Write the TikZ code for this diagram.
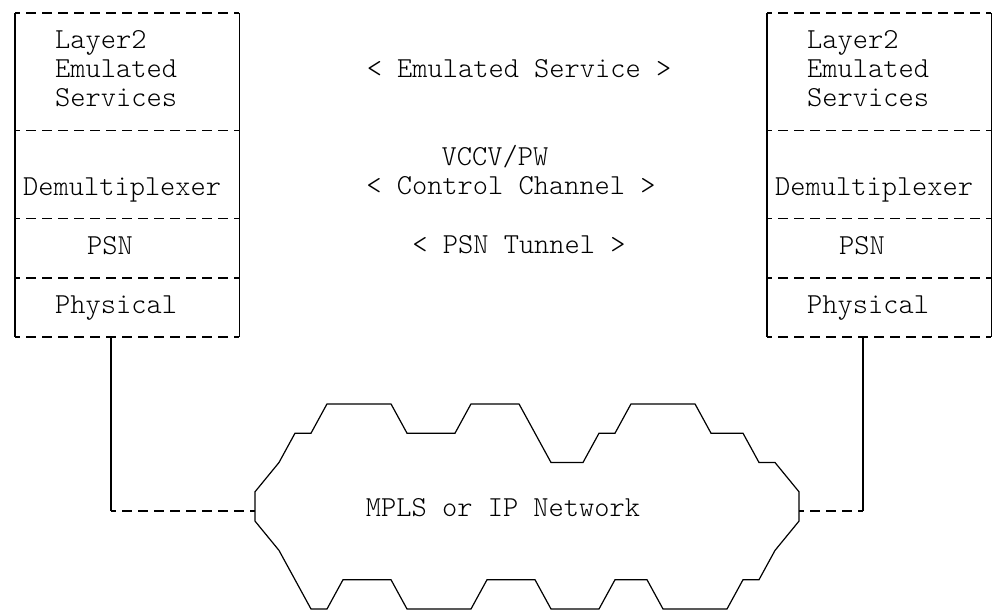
\documentclass[tikz,border=0pt]{standalone}
\usepackage{tikz}
\usetikzlibrary{positioning}

\newcommand{\asciifont}{\ttfamily\fontseries{l}\fontsize{29}{29.3}\selectfont}

\tikzset{
    layer/.style={rectangle, inner ysep=0pt, align=left, font=\asciifont, minimum width=224pt,
        execute at begin node=\strut, execute at end node=\strut},
    note/.style={inner sep=0pt, font=\asciifont,
        execute at begin node=\strut, execute at end node=\strut},
    bar/.style={line width=1.2pt},
    rule/.style={line width=1.2pt, dash pattern=on 10pt off 6pt, dash phase=5pt}
}

\begin{document}
\begin{tikzpicture}[x=1pt, y=-1pt]
        \useasboundingbox (0,0) rectangle (992,612);

        \node[layer, anchor=north west, minimum height=117.2pt, inner xsep=40pt, text width=144pt] (l2) at (15,13) {Layer2\\Emulated\\Services};
        \node[layer, below=0pt of l2, minimum height=87.9pt, inner xsep=8pt, text width=208pt] (ldmx) {\\Demultiplexer};
        \node[layer, below=0pt of ldmx, minimum height=58.6pt, inner xsep=72pt, text width=80pt] (lpsn) {PSN};
        \node[layer, below=0pt of lpsn, minimum height=58.6pt, inner xsep=40pt, text width=144pt] (lphy) {Physical};

        \node[layer, anchor=north west, minimum height=117.2pt, inner xsep=40pt, text width=144pt] (r2) at (767,13) {Layer2\\Emulated\\Services};
        \node[layer, below=0pt of r2, minimum height=87.9pt, inner xsep=8pt, text width=208pt] (rdmx) {\\Demultiplexer};
        \node[layer, below=0pt of rdmx, minimum height=58.6pt, inner xsep=72pt, text width=80pt] (rpsn) {PSN};
        \node[layer, below=0pt of rpsn, minimum height=58.6pt, inner xsep=40pt, text width=144pt] (rphy) {Physical};

        \node[note] (svc) at (519,71.6) {< Emulated Service >};
        \node[note] (vccv) at (495,159.5) {VCCV/PW};
        \node[note] (ctl) at (511,188.8) {< Control Channel >};
        \node[note] (tun) at (519,247.4) {< PSN Tunnel >};
        \node[note] (net) at (503,511) {MPLS or IP Network};

        \coordinate (lport) at ([xshift=96pt]lphy.south west);
        \coordinate (rport) at ([xshift=96pt]rphy.south west);
        \coordinate (cloudw) at (255,511);
        \coordinate (cloude) at (799,511);

        \foreach \s in {l2, ldmx, lpsn, lphy, r2, rdmx, rpsn, rphy}
            \draw[rule] (\s.north west) -- (\s.north east);
        \draw[rule] (lphy.south west) -- (lphy.south east)
            (rphy.south west) -- (rphy.south east);
        \draw[bar] (l2.north west) -- (lphy.south west)
            (l2.north east) -- (lphy.south east)
            (r2.north west) -- (rphy.south west)
            (r2.north east) -- (rphy.south east);

        \draw[bar] (255,521.1) -- (255,491.8) -- (279,462.5) -- (295,433.2) -- (311,433.2)
            -- (327,403.9) -- (391,403.9) -- (407,433.2) -- (455,433.2) -- (471,403.9)
            -- (519,403.9) -- (535,433.2) -- (551,462.5) -- (583,462.5) -- (599,433.2)
            -- (615,433.2) -- (631,403.9) -- (695,403.9) -- (711,433.2) -- (743,433.2)
            -- (759,462.5) -- (775,462.5) -- (799,491.8) -- (799,521.1) -- (775,550.4)
            -- (759,579.7) -- (743,579.7) -- (727,609) -- (663,609) -- (647,579.7)
            -- (615,579.7) -- (599,609) -- (551,609) -- (535,579.7) -- (487,579.7)
            -- (471,609) -- (407,609) -- (391,579.7) -- (343,579.7) -- (327,609)
            -- (311,609) -- (295,579.7) -- (279,550.4) -- cycle;

        \draw[bar] (lport) -- (lport |- cloudw)
            (rport) -- (rport |- cloude);
        \draw[rule] (lport |- cloudw) -- (cloudw)
            (cloude) -- (rport |- cloude);
\end{tikzpicture}
\end{document}
